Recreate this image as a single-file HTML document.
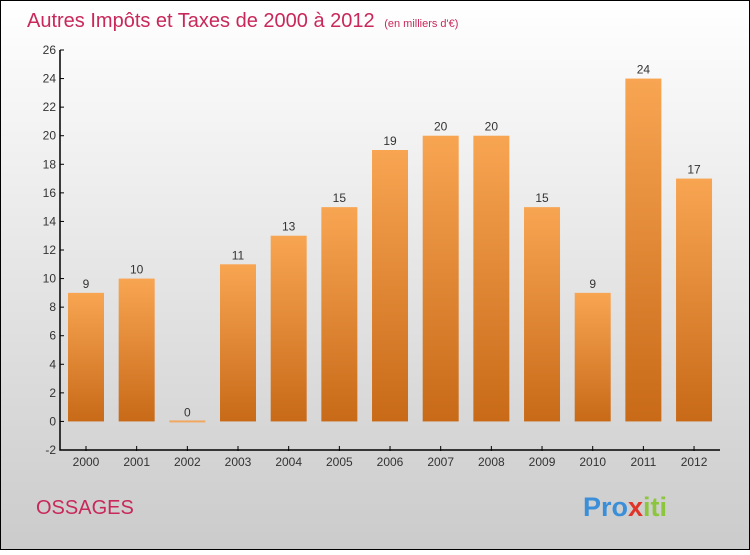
<!DOCTYPE html>
<html><head><meta charset="utf-8"><style>
body{margin:0;width:750px;height:550px;overflow:hidden;font-family:"Liberation Sans",sans-serif}
</style></head><body>
<svg width="750" height="550" xmlns="http://www.w3.org/2000/svg">
<defs>
<linearGradient id="bg" x1="0" y1="0" x2="0" y2="1"><stop offset="0" stop-color="#ffffff"/><stop offset="1" stop-color="#cbcbcb"/></linearGradient>
<linearGradient id="bar" x1="0" y1="0" x2="0" y2="1"><stop offset="0" stop-color="#f8a552"/><stop offset="1" stop-color="#c86a18"/></linearGradient>
</defs>
<rect x="0.5" y="0.5" width="749" height="549" fill="url(#bg)" stroke="#000"/>
<text x="27" y="27" font-size="20" fill="#c8285a">Autres Impôts et Taxes de 2000 à 2012 <tspan font-size="11" dx="4">(en milliers d'€)</tspan></text>
<g id="plot"></g>
<text x="36" y="514" font-size="20" fill="#c8285a">OSSAGES</text>
<text x="583" y="516" font-size="27" font-weight="bold"><tspan fill="#3a8fd8">Pro</tspan><tspan fill="#e0342a">x</tspan><tspan fill="#8cc63e">iti</tspan></text>
</svg>
<script>
const years=["2000","2001","2002","2003","2004","2005","2006","2007","2008","2009","2010","2011","2012"];
const values=[9,10,0,11,13,15,19,20,20,15,9,24,17];
const yTicks=[-2,0,2,4,6,8,10,12,14,16,18,20,22,24,26];
const NS="http://www.w3.org/2000/svg";
const g=document.getElementById('plot');
const y0=450,ymin=-2,ymax=26,plotTop=50;
const y=v=>y0-(v-ymin)/(ymax-ymin)*(y0-plotTop);
const x=i=>86+i*50.67;
function mk(t,a){const e=document.createElementNS(NS,t);for(const k in a)e.setAttribute(k,a[k]);g.appendChild(e);return e;}
let ax=mk('path',{d:`M60 ${plotTop} V${y0} H720`,stroke:'#000',fill:'none','stroke-width':1.5});


yTicks.forEach(v=>{
 const t=mk('line',{x1:60,x2:64,y1:y(v),y2:y(v),stroke:'#000'});
 
 
 const l=mk('text',{x:56,y:y(v)+4,'font-size':12,fill:'#333','text-anchor':'end'});
 l.textContent=v;
 
 
});
years.forEach((yr,i)=>{
 const cx=x(i);
 const t=mk('line',{x1:cx,x2:cx,y1:y0-4,y2:y0+1,stroke:'#000'});
 
 
 const l=mk('text',{x:cx,y:y0+16,'font-size':12,fill:'#333','text-anchor':'middle'});
 l.textContent=yr;
 
 
 const v=values[i];
 const h=Math.max(y(0)-y(v),2);
 const b=mk('rect',{x:cx-18,y:y(0)-h+(v===0?1:0),width:36,height:h,fill:v===0?'#f0a860':'url(#bar)'});
 
 
 const vl=mk('text',{x:cx,y:y(v)-5,'font-size':12,fill:'#333','text-anchor':'middle'});
 vl.textContent=v;
 
 
});
</script>
</body></html>
